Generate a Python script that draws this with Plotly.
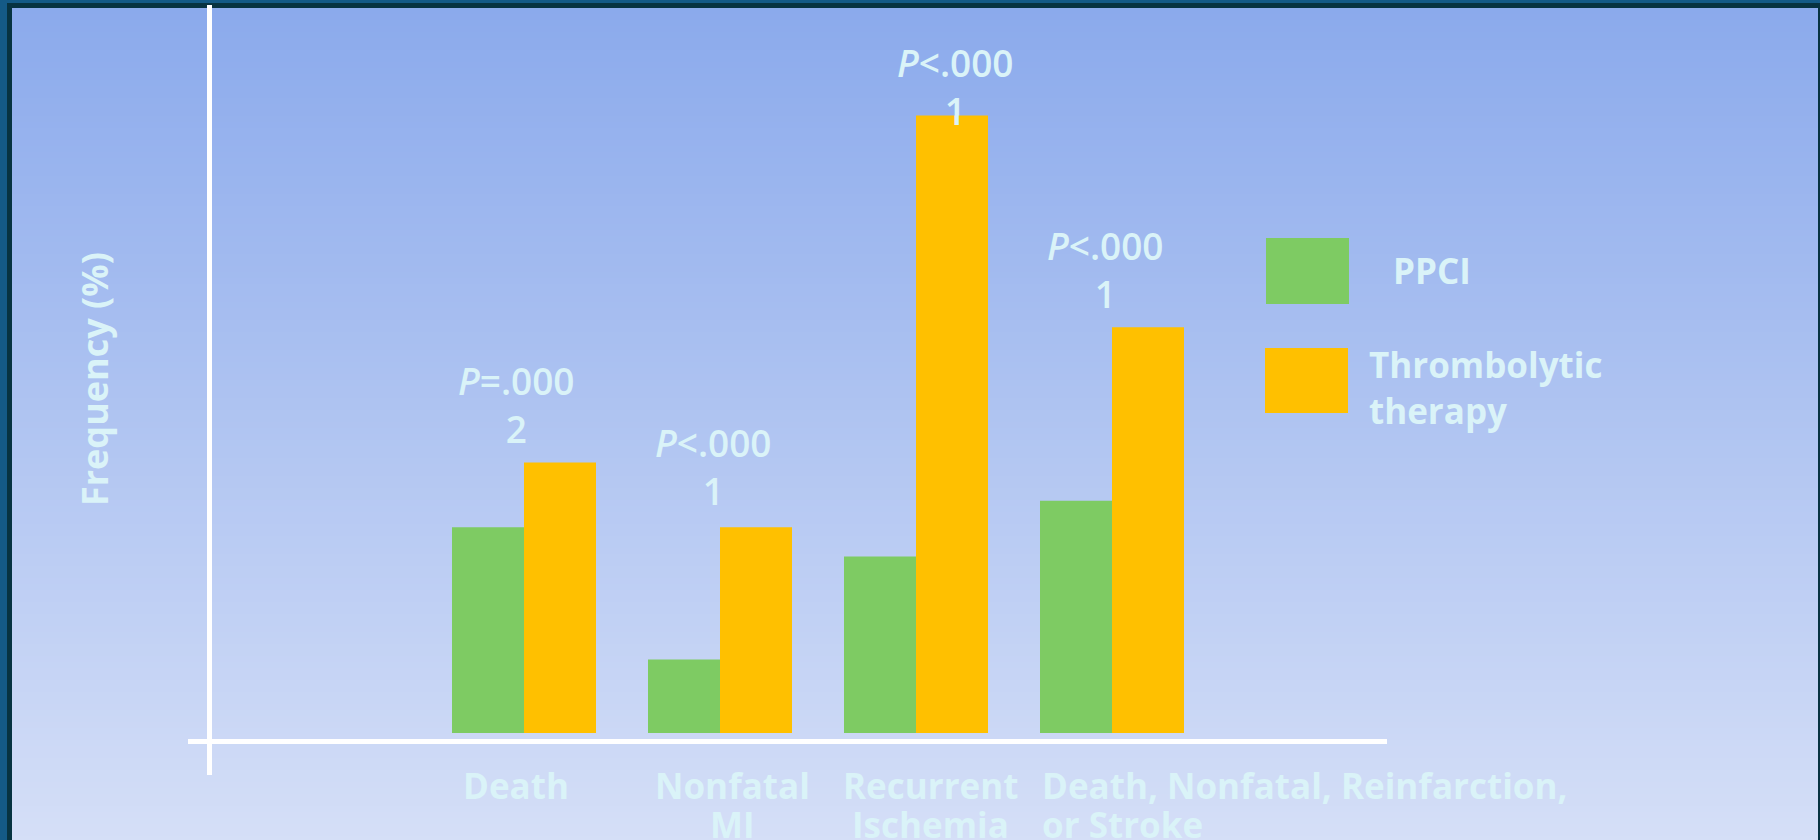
import plotly.graph_objects as go

# ---- data -------------------------------------------------------------
categories = ["Death", "Nonfatal MI", "Recurrent Ischemia",
              "Death, Nonfatal, Reinfarction, or Stroke"]
category_lines = [["Death"], ["Nonfatal", "MI"], ["Recurrent", "Ischemia"],
                  ["Death, Nonfatal, Reinfarction,", "or Stroke"]]
ppci = [7.0, 2.5, 6.0, 7.9]
thrombolytic = [9.2, 7.0, 21.0, 13.8]
p_values = ["P=.0002", "P<.0001", "P<.0001", "P<.0001"]
series_names = ["PPCI", "Thrombolytic therapy"]
y_title = "Frequency (%)"

# ---- canvas helpers ---------------------------------------------------
W, H = 1820, 840
GREEN = "#7ecb63"
ORANGE = "#ffc000"
TEXT = "#daf3f8"
SANS = "Open Sans"


def fx(px):
    return px / W


def fy(py):
    return 1 - py / H


# plot area in pixels: category 0 at x=524, 196 px per category,
# value 0 at y=733 and 29.4 px per percent
X_LEFT, X_RIGHT, X0, DX = 200, 1400, 524, 196
Y_TOP, Y_BASE, PX_PER_UNIT = 5, 733, 29.4

fig = go.Figure()
fig.add_trace(go.Bar(x=categories, y=ppci, name=series_names[0],
                     marker=dict(color=GREEN, line=dict(width=0)),
                     showlegend=False))
fig.add_trace(go.Bar(x=categories, y=thrombolytic, name=series_names[1],
                     marker=dict(color=ORANGE, line=dict(width=0)),
                     showlegend=False))

shapes = []
# outer frame
shapes.append(dict(type="rect", xref="paper", yref="paper", layer="below",
                   x0=fx(7), x1=1, y0=0, y1=fy(3),
                   fillcolor="#073341", line=dict(width=0)))
# vertical gradient panel
top_c = (139, 170, 236)
bot_c = (213, 223, 247)
band = 6
y = 8
while y < H:
    t = (y - 8) / (H - 8)
    c = tuple(round(a + (b - a) * t) for a, b in zip(top_c, bot_c))
    shapes.append(dict(type="rect", xref="paper", yref="paper", layer="below",
                       x0=fx(12), x1=fx(1818), y0=fy(min(y + band + 1, H)), y1=fy(y),
                       fillcolor="rgb(%d,%d,%d)" % c, line=dict(width=0)))
    y += band

# white axis lines
shapes.append(dict(type="line", xref="paper", yref="paper", layer="above",
                   x0=fx(209.5), x1=fx(209.5), y0=fy(775), y1=fy(5),
                   line=dict(color="white", width=5)))
shapes.append(dict(type="line", xref="paper", yref="paper", layer="above",
                   x0=fx(188), x1=fx(1387), y0=fy(741.5), y1=fy(741.5),
                   line=dict(color="white", width=5)))

# legend swatches
shapes.append(dict(type="rect", xref="paper", yref="paper",
                   x0=fx(1266), x1=fx(1349), y0=fy(304), y1=fy(238),
                   fillcolor=GREEN, line=dict(width=0)))
shapes.append(dict(type="rect", xref="paper", yref="paper",
                   x0=fx(1265), x1=fx(1348), y0=fy(413), y1=fy(348),
                   fillcolor=ORANGE, line=dict(width=0)))

annotations = []
# category labels, one annotation per line
cat_shift = [-8, 12, 14, -72]
cat_anchor = ["center", "center", "center", "left"]
for i, lines in enumerate(category_lines):
    for j, line in enumerate(lines):
        annotations.append(dict(
            x=categories[i], xref="x", xshift=cat_shift[i], xanchor=cat_anchor[i],
            y=fy(785 + 39 * j), yref="paper", yanchor="middle",
            text=line, showarrow=False,
            font=dict(family=SANS, size=35, color=TEXT, weight=700)))

# significance labels above the thrombolytic bars
p_xshift = [-8, -7, 39, -7]
p_yshift = [58, 61, 29, 58]
for i, p in enumerate(p_values):
    txt = "<i>%s</i>%s<br>%s" % (p[0], p[1:-1].replace("<", "&lt;"), p[-1])
    annotations.append(dict(
        x=categories[i], xref="x", xshift=p_xshift[i],
        y=thrombolytic[i], yref="y", yshift=p_yshift[i], yanchor="middle",
        text=txt, showarrow=False,
        font=dict(family=SANS, size=37, color=TEXT, weight=600)))

# legend text
legend_lines = [(series_names[0], 1391, 270)]
words = series_names[1].split(" ")
legend_lines += [(words[0], 1367, 364), (words[1], 1367, 410)]
for txt, lx, ly in legend_lines:
    annotations.append(dict(
        x=fx(lx), xref="paper", xanchor="left",
        y=fy(ly), yref="paper", yanchor="middle",
        text=txt, showarrow=False,
        font=dict(family=SANS, size=35, color=TEXT, weight=700)))

# y-axis title
annotations.append(dict(
    x=fx(95), xref="paper", y=fy(379), yref="paper",
    xanchor="center", yanchor="middle", textangle=-90,
    text=y_title, showarrow=False,
    font=dict(family=SANS, size=36, color=TEXT, weight=700)))

fig.update_layout(
    width=W, height=H,
    margin=dict(l=0, r=0, t=0, b=0),
    paper_bgcolor="#145a86",
    plot_bgcolor="rgba(0,0,0,0)",
    barmode="group", bargap=1 - 144 / DX, bargroupgap=0,
    shapes=shapes, annotations=annotations,
    xaxis=dict(domain=[fx(X_LEFT), fx(X_RIGHT)],
               range=[(X_LEFT - X0) / DX, (X_RIGHT - X0) / DX],
               showgrid=False, zeroline=False, showline=False,
               showticklabels=False, ticks=""),
    yaxis=dict(domain=[fy(Y_BASE), fy(Y_TOP)],
               range=[0, (Y_BASE - Y_TOP) / PX_PER_UNIT],
               showgrid=False, zeroline=False, showline=False,
               showticklabels=False, ticks=""),
)

fig.write_html("out.html")
